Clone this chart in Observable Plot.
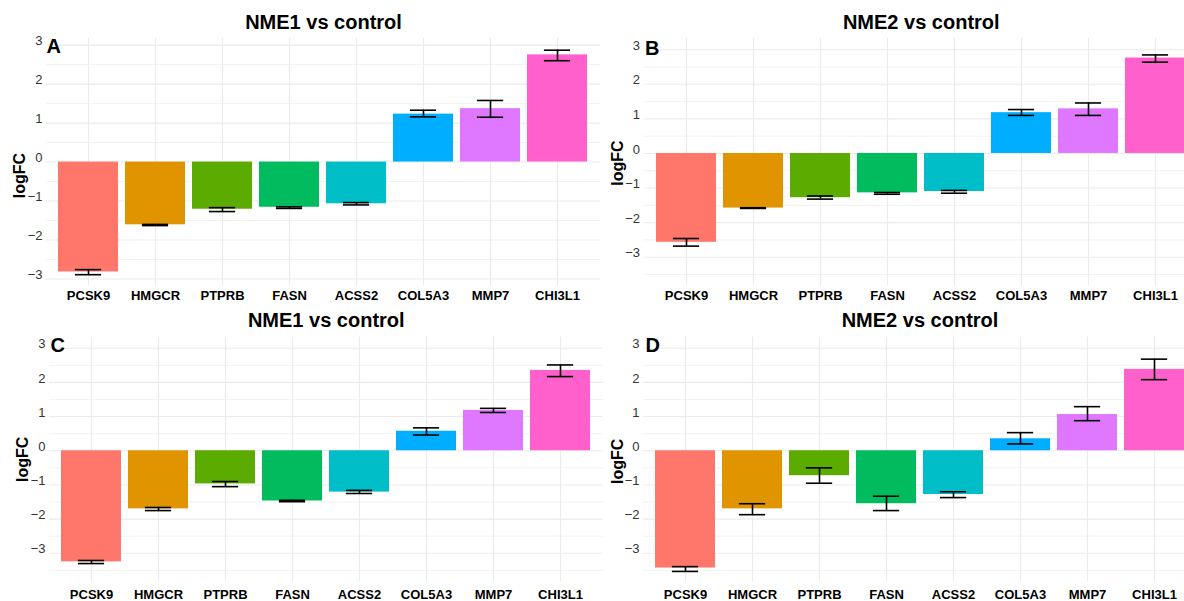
<!DOCTYPE html>
<html>
<head>
<meta charset="utf-8">
<script src="https://cdn.jsdelivr.net/npm/d3@7"></script>
<script src="https://cdn.jsdelivr.net/npm/@observablehq/plot@0.6"></script>
<style>
  html, body { margin: 0; padding: 0; background: #fff; }
  #wrap { position: relative; width: 1184px; height: 601px; overflow: hidden; background: #fff; }
  .panel { position: absolute; }
  .panel svg g[aria-label^="x-axis"] text { font-weight: bold; fill: #000; font-size: 13px; }
  .panel svg g[aria-label^="y-axis"] text { fill: #333; font-size: 13px; }
</style>
</head>
<body>
<div id="wrap"></div>
<script>
// ---- data ----
const genes = ["PCSK9", "HMGCR", "PTPRB", "FASN", "ACSS2", "COL5A3", "MMP7", "CHI3L1"];
const geneColors = ["#FF766B", "#E09500", "#5BAB00", "#00BC5E", "#00BEC8", "#00AEFF", "#E078FF", "#FF60CC"];
const yTicks = [-3, -2, -1, 0, 1, 2, 3];
const yMinorTicks = [-3.5, -2.5, -1.5, -0.5, 0.5, 1.5, 2.5];

const titles = ["NME1 vs control", "NME2 vs control", "NME1 vs control", "NME2 vs control"];
const letters = ["A", "B", "C", "D"];

// Panel A
const valueA = [-2.82, -1.61, -1.21, -1.16, -1.07, 1.23, 1.37, 2.75];
const lowerA = [-2.89, -1.63, -1.27, -1.19, -1.10, 1.16, 1.15, 2.60];
const upperA = [-2.76, -1.60, -1.17, -1.15, -1.04, 1.33, 1.58, 2.87];
// Panel B
const valueB = [-2.57, -1.58, -1.28, -1.14, -1.10, 1.18, 1.29, 2.76];
const lowerB = [-2.68, -1.59, -1.32, -1.18, -1.15, 1.10, 1.10, 2.64];
const upperB = [-2.46, -1.57, -1.23, -1.13, -1.07, 1.27, 1.46, 2.85];
// Panel C
const valueC = [-3.25, -1.70, -0.97, -1.47, -1.21, 0.57, 1.18, 2.35];
const lowerC = [-3.30, -1.75, -1.05, -1.49, -1.25, 0.46, 1.12, 2.17];
const upperC = [-3.21, -1.66, -0.90, -1.45, -1.16, 0.67, 1.24, 2.51];
// Panel D
const valueD = [-3.43, -1.70, -0.73, -1.55, -1.28, 0.35, 1.06, 2.38];
const lowerD = [-3.53, -1.87, -0.95, -1.75, -1.37, 0.20, 0.88, 2.08];
const upperD = [-3.39, -1.55, -0.50, -1.33, -1.20, 0.53, 1.29, 2.68];

// ---- layout per panel ----
const panels = [
  {values: valueA, lower: lowerA, upper: upperA, yDomain: [-3.18, 3.17],
   left: 0, top: 0, width: 600, height: 302, mL: 46, mT: 38, mB: 16.5, tickPad: 4.5,
   titleDy: -16.3, letterDx: 0, letterDy: 0, labDx: -27, labDy: 13.3},
  {values: valueB, lower: lowerB, upper: upperB, yDomain: [-3.825, 3.325],
   left: 592, top: 0, width: 606, height: 302, mL: 51.5, mT: 38, mB: 16.8, tickPad: 5,
   titleDy: -16.3, letterDx: 1, letterDy: 2, labDx: -26.5, labDy: 1},
  {values: valueC, lower: lowerC, upper: upperC, yDomain: [-3.825, 3.325],
   left: 0, top: 299, width: 602.5, height: 302, mL: 49, mT: 37.6, mB: 20, tickPad: 8,
   titleDy: -16.6, letterDx: 1, letterDy: 0.5, labDx: -27, labDy: 0},
  {values: valueD, lower: lowerD, upper: upperD, yDomain: [-3.825, 3.325],
   left: 592, top: 299, width: 604, height: 302, mL: 51, mT: 37.6, mB: 20, tickPad: 8,
   titleDy: -16.6, letterDx: 2, letterDy: 0.5, labDx: -26, labDy: 2}
];

const wrap = document.getElementById("wrap");
const font = "'Liberation Sans', Arial, sans-serif";

panels.forEach((p, k) => {
  const rows = genes.map((g, i) => ({gene: g, value: p.values[i], lower: p.lower[i], upper: p.upper[i]}));
  const bandStep = (p.width - p.mL) / 8.2;
  const capInset = (bandStep * 0.9 - bandStep * 0.4) / 2;
  const chart = Plot.plot({
    width: p.width,
    height: p.height,
    marginLeft: p.mL,
    marginRight: 0,
    marginTop: p.mT,
    marginBottom: p.mB,
    style: {fontFamily: font, fontSize: "13px", overflow: "visible", background: "transparent", maxWidth: "none", color: "#333"},
    x: {domain: genes, paddingInner: 0.1, paddingOuter: 0.15, tickSize: 0, tickPadding: p.tickPad, label: null},
    y: {domain: p.yDomain, ticks: yTicks, tickFormat: d3.format("d"), tickSize: 0, tickPadding: 4, label: null},
    color: {domain: genes, range: geneColors},
    marks: [
      Plot.ruleY(yMinorTicks.filter(t => t >= p.yDomain[0] && t <= p.yDomain[1]), {y: d => d, stroke: "#F2F2F2", strokeWidth: 1}),
      Plot.ruleY(yTicks, {y: d => d, stroke: "#EBEBEB", strokeWidth: 1.1}),
      Plot.ruleX(genes, {x: d => d, stroke: "#EBEBEB", strokeWidth: 1.1}),
      Plot.barY(rows, {x: "gene", y: "value", fill: "gene"}),
      Plot.ruleX(rows, {x: "gene", y1: "lower", y2: "upper", stroke: "#000", strokeWidth: 1.6}),
      Plot.tickY(rows, {x: "gene", y: "lower", stroke: "#000", strokeWidth: 1.6, insetLeft: capInset, insetRight: capInset}),
      Plot.tickY(rows, {x: "gene", y: "upper", stroke: "#000", strokeWidth: 1.6, insetLeft: capInset, insetRight: capInset}),
      Plot.text([titles[k]], {text: d => d, frameAnchor: "top", dy: p.titleDy, fontSize: 20, fontWeight: "bold", fill: "#000", lineAnchor: "middle"}),
      Plot.text([letters[k]], {text: d => d, frameAnchor: "top-left", textAnchor: "start", lineAnchor: "top", dx: p.letterDx, dy: p.letterDy, fontSize: 20, fontWeight: "bold", fill: "#000"}),
      Plot.text(["logFC"], {text: d => d, frameAnchor: "left", textAnchor: "middle", lineAnchor: "middle", rotate: -90, dx: p.labDx, dy: p.labDy, fontSize: 16, fontWeight: "bold", fill: "#000"})
    ]
  });
  d3.select(chart).selectAll('g[aria-label^="y-axis"] text').each(function () {
    const dy = this.getAttribute("dy");
    if (dy === "0.32em") this.setAttribute("dy", "0.02em");
    else this.setAttribute("dy", "-4");
  });
  const div = document.createElement("div");
  div.className = "panel";
  div.style.left = p.left + "px";
  div.style.top = p.top + "px";
  div.style.width = p.width + "px";
  div.style.height = p.height + "px";
  div.appendChild(chart);
  wrap.appendChild(div);
});
</script>
</body>
</html>
